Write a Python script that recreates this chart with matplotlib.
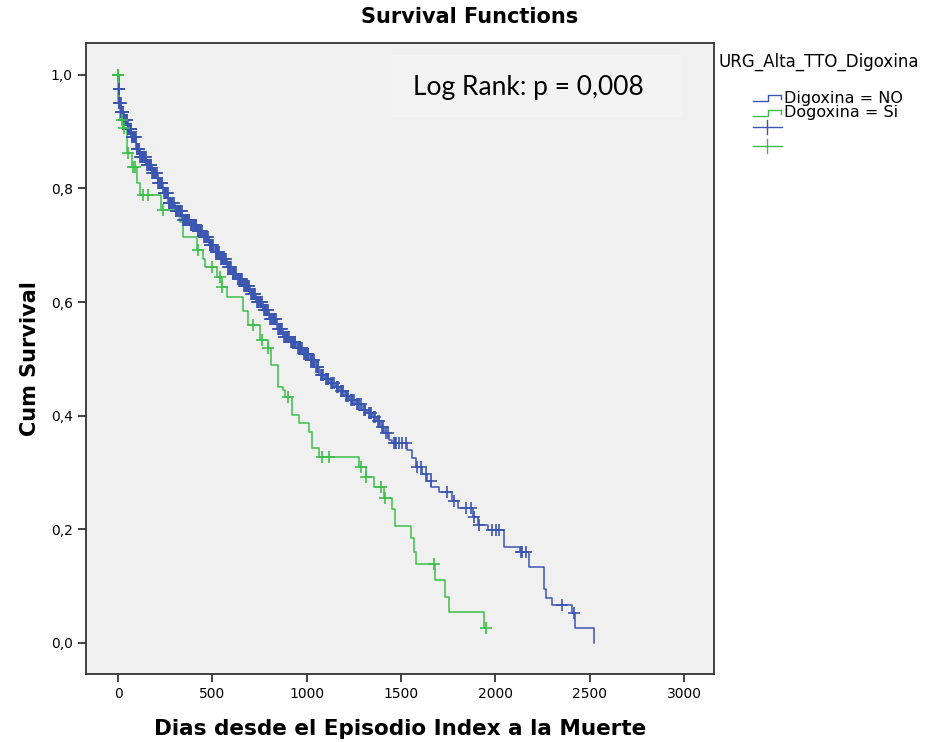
### Kaplan-Meier style survival plot

import matplotlib
matplotlib.use('Agg')
import matplotlib.pyplot as plt
from matplotlib.lines import Line2D
from matplotlib.patches import Rectangle
import numpy as np

# --- data ---
# step curves: time of each drop and survival just after it
no_times = [0, 3, 6, 15, 30, 50, 70, 95, 115, 150, 180, 210, 240, 265, 300, 340, 380,
            420, 450, 480, 510, 540, 575, 600, 630, 660, 700, 730, 766, 800, 840, 872,
            910, 946, 980, 1014, 1040, 1067, 1095, 1120, 1150, 1173, 1200, 1226, 1260,
            1294, 1320, 1347, 1370, 1390, 1410, 1437, 1450, 1530, 1555, 1580, 1610, 1635,
            1660, 1700, 1770, 1800, 1880, 1905, 1960, 2044, 2130, 2177, 2255, 2270, 2300,
            2404, 2420, 2520]
no_surv = [1.0, 0.975, 0.95, 0.935, 0.92, 0.905, 0.89, 0.87, 0.855, 0.842, 0.828, 0.81,
           0.792, 0.775, 0.76, 0.745, 0.735, 0.725, 0.715, 0.70, 0.688, 0.675, 0.662, 0.65,
           0.64, 0.628, 0.615, 0.60, 0.586, 0.57, 0.553, 0.539, 0.53, 0.52, 0.508, 0.498,
           0.485, 0.472, 0.465, 0.458, 0.45, 0.443, 0.435, 0.428, 0.42, 0.41, 0.404, 0.398,
           0.39, 0.38, 0.37, 0.357, 0.352, 0.34, 0.325, 0.31, 0.297, 0.285, 0.275, 0.266,
           0.25, 0.238, 0.222, 0.208, 0.199, 0.169, 0.16, 0.134, 0.095, 0.08, 0.067, 0.053,
           0.027, 0.0]

si_times = [0, 2, 8, 26, 48, 74, 100, 116, 227, 328, 343, 417, 449, 460, 523, 549, 576,
            660, 690, 750, 792, 813, 845, 872, 882, 924, 961, 1014, 1030, 1067, 1278, 1315,
            1358, 1410, 1453, 1470, 1553, 1569, 1580, 1680, 1733, 1754, 1940]
si_surv = [1.0, 0.95, 0.92, 0.906, 0.862, 0.838, 0.81, 0.789, 0.762, 0.741, 0.715, 0.692,
           0.675, 0.662, 0.644, 0.627, 0.609, 0.585, 0.56, 0.533, 0.519, 0.489, 0.451, 0.445,
           0.433, 0.401, 0.387, 0.371, 0.343, 0.327, 0.31, 0.292, 0.275, 0.255, 0.235, 0.206,
           0.185, 0.16, 0.139, 0.111, 0.081, 0.055, 0.027]

# censored observations (times)
no_cens = [0, 0, 0, 1, 1, 1, 2, 2, 2, 3, 4, 4, 5, 6, 7, 8, 9, 10, 11, 12, 13, 15, 17,
           19, 20, 22, 24, 26, 28, 31, 33, 35, 37, 39, 41, 43, 45, 48, 52, 55, 57, 59,
           61, 64, 66, 69, 73, 76, 78, 81, 84, 87, 90, 93, 98, 101, 104, 107, 110, 113,
           118, 121, 124, 128, 131, 134, 138, 141, 144, 147, 152, 156, 159, 163, 167,
           170, 173, 176, 182, 185, 188, 192, 195, 199, 202, 205, 212, 216, 219, 222,
           226, 229, 232, 235, 243, 246, 249, 252, 256, 259, 262, 268, 271, 274, 278,
           281, 285, 288, 292, 296, 305, 308, 312, 315, 319, 323, 327, 330, 333, 337,
           346, 349, 352, 356, 360, 364, 367, 371, 374, 377, 386, 389, 393, 397, 401,
           405, 408, 412, 415, 423, 426, 430, 433, 437, 441, 446, 456, 459, 463, 467,
           471, 476, 486, 489, 493, 496, 500, 505, 517, 520, 524, 527, 531, 536, 546,
           549, 553, 557, 561, 564, 568, 572, 582, 586, 589, 594, 597, 607, 610, 614,
           618, 622, 626, 637, 640, 644, 648, 651, 656, 668, 671, 675, 679, 683, 687,
           691, 696, 707, 711, 714, 718, 722, 726, 737, 740, 744, 748, 752, 756, 759,
           763, 773, 777, 781, 786, 790, 795, 807, 811, 815, 820, 824, 828, 831, 836,
           848, 852, 856, 860, 864, 868, 880, 884, 888, 893, 897, 901, 904, 917, 921,
           925, 929, 933, 937, 940, 953, 958, 962, 966, 970, 975, 987, 991, 995, 1000,
           1004, 1009, 1021, 1025, 1029, 1033, 1036, 1050, 1054, 1058, 1062, 1075, 1079,
           1083, 1088, 1102, 1106, 1110, 1115, 1128, 1132, 1136, 1143, 1158, 1162, 1166,
           1181, 1185, 1189, 1194, 1208, 1212, 1216, 1234, 1238, 1242, 1251, 1268, 1272,
           1277, 1285, 1302, 1306, 1311, 1329, 1333, 1338, 1356, 1362, 1378, 1383, 1398,
           1403, 1418, 1428, 1460, 1466, 1472, 1488, 1506, 1527, 1585, 1606, 1632, 1659,
           1743, 1780, 1844, 1870, 1886, 1912, 1981, 2002, 2018, 2134, 2140, 2161, 2351,
           2414]
si_cens = [0, 0, 0, 1, 21, 32, 53, 80, 88, 132, 158, 238, 423, 497, 539, 552, 713, 761,
           792, 898, 1083, 1120, 1289, 1315, 1395, 1416, 1675, 1950]

blue = '#3b56b0'
green = '#3cbf4a'


def surv_at(times, surv, t):
    idx = np.searchsorted(times, t, side='right') - 1
    return np.array(surv)[idx]


fig = plt.figure(figsize=(9.34, 7.42), dpi=100)
W, H = 934.0, 742.0
ax = fig.add_axes([86 / W, 1 - 674 / H, 628 / W, 631 / H])
ax.set_facecolor('#f0f0f0')

# step curves
ax.step(no_times + [no_times[-1]], no_surv + [no_surv[-1]], where='post', color=blue, lw=1.1)
ax.step(si_times + [si_cens[-1]], si_surv + [si_surv[-1]], where='post', color=green, lw=1.1)

# censor marks
ax.plot(no_cens, surv_at(no_times, no_surv, no_cens), ls='none', marker='+',
        ms=8, mew=1.2, color=blue)
ax.plot(si_cens, surv_at(si_times, si_surv, si_cens), ls='none', marker='+',
        ms=8, mew=1.2, color=green)

ax.set_xlim(-170, 3158)
ax.set_ylim(-0.0546, 1.056)
ax.set_xticks([0, 500, 1000, 1500, 2000, 2500, 3000])
ax.set_yticks([0, 0.2, 0.4, 0.6, 0.8, 1.0])
ax.set_yticklabels(['0,0', '0,2', '0,4', '0,6', '0,8', '1,0'])
ax.tick_params(direction='out', length=6, width=1.3, labelsize=10, color='#333333')
for s in ax.spines.values():
    s.set_linewidth(1.3)
    s.set_color('#333333')

ax.set_xlabel('Dias desde el Episodio Index a la Muerte', fontsize=15.5,
              fontweight='bold', labelpad=13)
ax.set_ylabel('Cum Survival', fontsize=15, fontweight='bold', labelpad=8)
fig.suptitle('Survival Functions', x=470 / W, y=1 - 7 / H, va='top',
             fontsize=15, fontweight='bold')


# pixel -> figure fraction
def px(x, y):
    return x / W, 1 - y / H


# log rank box
fig.add_artist(Rectangle(px(392, 117), 290 / W, 62 / H, transform=fig.transFigure,
                         fc='#f3f3f3', ec='none'))
fig.text(*px(413, 87), 'Log Rank: p = 0,008', fontsize=19, family='Lato',
         va='center', ha='left')

# legend drawn by hand
fig.text(*px(718, 62), 'URG_Alta_TTO_Digoxina', fontsize=12, va='center')
labels = ['Digoxina = NO', 'Dogoxina = Si']
for i, (lab, col) in enumerate(zip(labels, [blue, green])):
    y = 98 + i * 15
    xs = [753, 768, 768, 781, 781]
    ys = [y + 3, y + 3, y - 3, y - 3, y + 1]
    fig.add_artist(Line2D([px(a, b)[0] for a, b in zip(xs, ys)],
                          [px(a, b)[1] for a, b in zip(xs, ys)], color=col, lw=1))
    fig.text(*px(784, y), lab, fontsize=11.5, va='center')
for i, col in enumerate([blue, green]):
    y = 127 + i * 19
    a, b = px(753, y), px(782, y)
    fig.add_artist(Line2D([a[0], b[0]], [a[1], b[1]], color=col, lw=1))
    a, b = px(767, y - 7), px(767, y + 7)
    fig.add_artist(Line2D([a[0], b[0]], [a[1], b[1]], color=col, lw=1))

fig.savefig('out.png', dpi=100)
